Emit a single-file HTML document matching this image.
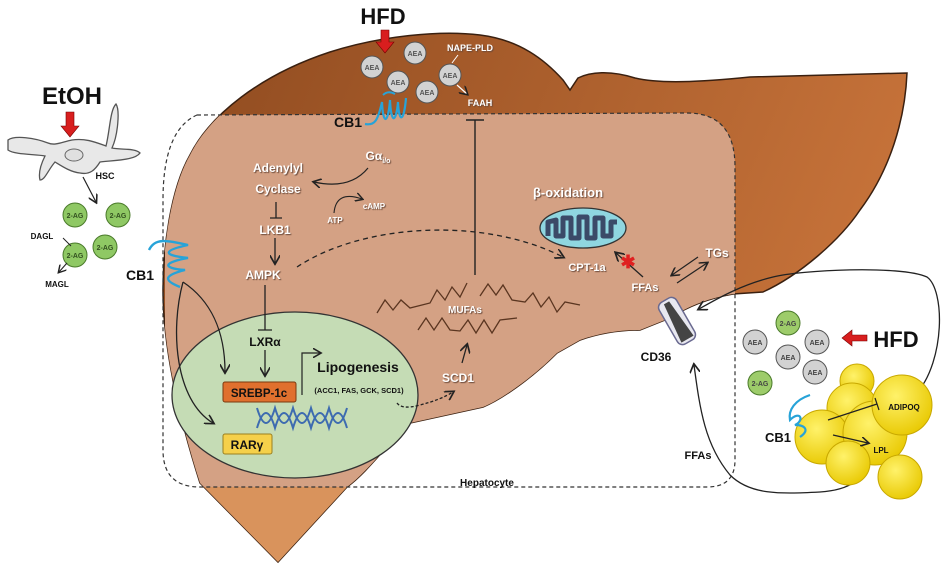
<!DOCTYPE html>
<html><head><meta charset="utf-8"><style>
html,body{margin:0;padding:0;background:#fff;}
svg{display:block;font-family:"Liberation Sans",sans-serif;font-weight:bold;}
.w{fill:#fff;text-shadow:1px 1px 1px #6b4a3a;}
.d{fill:#111;}
</style></head><body>
<svg width="942" height="569" viewBox="0 0 942 569" xmlns="http://www.w3.org/2000/svg">
<defs>
<linearGradient id="lg" x1="0" y1="0" x2="1" y2="0.3">
<stop offset="0" stop-color="#8e4a1f"/><stop offset="1" stop-color="#c7733a"/></linearGradient>
<radialGradient id="fy" cx="0.4" cy="0.35" r="0.7"><stop offset="0" stop-color="#fff26a"/><stop offset="1" stop-color="#e8c800"/></radialGradient>
<clipPath id="lc"><path d="M163,290 C163,250 170,190 190,155 C210,115 260,75 330,52 C380,36 440,30 480,35 C520,40 545,60 563,80 L570,90 L578,78 C590,72 610,70 635,78 C660,84 700,82 750,77 L907,73 C905,120 890,170 860,210 C840,240 800,275 763,292 L733,294 C710,298 690,305 670,318 L640,330 C620,330 600,333 580,340 L557,353 C530,380 500,400 483,407 L410,423 C390,440 370,470 347,487 L278,562 L200,483 C180,420 163,350 163,290 Z"/></clipPath>
<marker id="ah" markerWidth="8" markerHeight="8" refX="6" refY="4" orient="auto"><path d="M0,0 L7,4 L0,8" fill="none" stroke="#222" stroke-width="1.3"/></marker>
</defs>
<path d="M163,290 C163,250 170,190 190,155 C210,115 260,75 330,52 C380,36 440,30 480,35 C520,40 545,60 563,80 L570,90 L578,78 C590,72 610,70 635,78 C660,84 700,82 750,77 L907,73 C905,120 890,170 860,210 C840,240 800,275 763,292 L733,294 C710,298 690,305 670,318 L640,330 C620,330 600,333 580,340 L557,353 C530,380 500,400 483,407 L410,423 C390,440 370,470 347,487 L278,562 L200,483 C180,420 163,350 163,290 Z" fill="url(#lg)" stroke="#3a2010" stroke-width="1.5"/>
<g clip-path="url(#lc)">
<path d="M197,115 L687,113 Q735,113 735,167 L735,460 Q735,487 707,487 L200,487 Q165,487 165,450 L165,200 Q165,130 197,115 Z" fill="#d4a184"/>
<rect x="150" y="487" width="250" height="90" fill="#d9935c"/>
</g>
<path d="M197,115 L687,113 Q735,113 735,167 L735,460 Q735,487 707,487 L200,487 Q163,487 163,450 L163,200 Q163,130 197,115 Z" fill="none" stroke="#333" stroke-width="1.2" stroke-dasharray="4,3"/>
<ellipse cx="295" cy="395" rx="123" ry="83" fill="#c5dcb5" stroke="#333" stroke-width="1.3"/>
<text x="383" y="24" font-size="22" text-anchor="middle" class="d">HFD</text>
<path d="M381,30 L389,30 L389,42 L394,42 L385,53 L376,42 L381,42 Z" fill="#d81e1e" stroke="#700" stroke-width="0.6"/>
<g fill="#d2d2d2" stroke="#555" stroke-width="1">
<circle cx="372" cy="67" r="11"/><circle cx="415" cy="53" r="11"/><circle cx="398" cy="82" r="11"/><circle cx="427" cy="92" r="11"/><circle cx="450" cy="75" r="11"/>
</g>
<g font-size="7" fill="#555" text-anchor="middle">
<text x="372" y="70">AEA</text><text x="415" y="56">AEA</text><text x="398" y="85">AEA</text><text x="427" y="95">AEA</text><text x="450" y="78">AEA</text></g>
<text x="470" y="51" font-size="9" class="w" text-anchor="middle">NAPE-PLD</text>
<text x="480" y="106" font-size="9" class="w" text-anchor="middle">FAAH</text>
<path d="M458,55 L452,63" stroke="#fff" stroke-width="1"/>
<path d="M457,85 L467,94" stroke="#fff" stroke-width="1.2" marker-end="url(#ah)"/>
<text x="348" y="127" font-size="14" class="d" text-anchor="middle">CB1</text>
<path d="M365,124 C375,126 378,120 382,102 C383,125 388,125 390,100 C391,124 396,124 398,102 C399,124 404,122 406,98" fill="none" stroke="#27a3d8" stroke-width="2.2"/>
<path d="M383,95 Q388,90 395,94" fill="none" stroke="#27a3d8" stroke-width="2"/>
<path d="M475,120 L475,275 M466,120 L484,120" stroke="#222" stroke-width="1.4"/>
<text x="378" y="160" font-size="12" class="w" text-anchor="middle">Gα<tspan font-size="7" dy="3">i/o</tspan></text>
<text x="278" y="172" font-size="12" class="w" text-anchor="middle">Adenylyl</text>
<text x="278" y="193" font-size="12" class="w" text-anchor="middle">Cyclase</text>
<path d="M368,168 Q350,190 314,182" fill="none" stroke="#222" stroke-width="1.2" marker-end="url(#ah)"/>
<text x="335" y="223" font-size="8" class="w" text-anchor="middle">ATP</text>
<text x="374" y="209" font-size="8" class="w" text-anchor="middle">cAMP</text>
<path d="M334,213 Q336,190 362,199" fill="none" stroke="#222" stroke-width="1.1" marker-end="url(#ah)"/>
<path d="M276,202 L276,218 M270,218 L282,218" stroke="#222" stroke-width="1.3"/>
<text x="275" y="234" font-size="12" class="w" text-anchor="middle">LKB1</text>
<path d="M275,238 L275,263" stroke="#222" stroke-width="1.3" marker-end="url(#ah)"/>
<text x="263" y="279" font-size="12" class="w" text-anchor="middle">AMPK</text>
<path d="M297,267 C360,225 480,215 563,257" fill="none" stroke="#222" stroke-width="1.3" stroke-dasharray="5,4" marker-end="url(#ah)"/>
<path d="M265,285 L265,330 M258,330 L272,330" stroke="#222" stroke-width="1.3"/>
<text x="265" y="346" font-size="12" class="d" text-anchor="middle">LXRα</text>
<path d="M265,350 L265,375" stroke="#222" stroke-width="1.3" marker-end="url(#ah)"/>
<path d="M183,282 C210,300 225,330 225,372" fill="none" stroke="#222" stroke-width="1.3" marker-end="url(#ah)"/>
<path d="M183,282 C170,330 175,400 213,423" fill="none" stroke="#222" stroke-width="1.3" marker-end="url(#ah)"/>
<rect x="223" y="382" width="73" height="20" rx="2" fill="#e0702e" stroke="#7a3a10" stroke-width="1"/>
<text x="259" y="397" font-size="11.5" class="d" text-anchor="middle">SREBP-1c</text>
<rect x="223" y="434" width="49" height="20" rx="2" fill="#f5d04a" stroke="#9a8020" stroke-width="1"/>
<text x="247" y="449" font-size="12" class="d" text-anchor="middle">RARγ</text>
<g fill="none" stroke="#3d6bb0" stroke-width="2">
<path d="M257,408 C263,428 269,428 275,408 C281,428 287,428 293,408 C299,428 305,428 311,408 C317,428 323,428 329,408 C335,428 341,428 347,408"/>
<path d="M257,428 C263,408 269,408 275,428 C281,408 287,408 293,428 C299,408 305,408 311,428 C317,408 323,408 329,428 C335,408 341,408 347,428"/>
</g>
<path d="M302,395 L302,353 L320,353" fill="none" stroke="#222" stroke-width="1.2" marker-end="url(#ah)"/>
<text x="358" y="372" font-size="14" class="d" text-anchor="middle">Lipogenesis</text>
<text x="359" y="393" font-size="7.5" class="d" text-anchor="middle">(ACC1, FAS, GCK, SCD1)</text>
<path d="M397,403 Q402,410 420,405 Q440,400 453,392" fill="none" stroke="#222" stroke-width="1.3" stroke-dasharray="3,2" marker-end="url(#ah)"/>
<text x="458" y="382" font-size="12" class="w" text-anchor="middle">SCD1</text>
<path d="M462,363 L467,345" stroke="#222" stroke-width="1.3" marker-end="url(#ah)"/>
<g fill="none" stroke="#5a3520" stroke-width="1.3">
<polyline points="377,313 385,300 393,310 401,300 410,308 430,303 437,290 445,300 452,287 460,297 467,283"/>
<polyline points="480,296 488,284 496,295 503,285 512,300 525,302 533,293 541,307 549,297 557,312 565,302 580,305"/>
<polyline points="418,330 426,318 434,330 442,318 450,330 460,331 468,320 476,333 484,320 492,333 500,320 517,318"/>
</g>
<text x="465" y="313" font-size="10" class="w" text-anchor="middle">MUFAs</text>
<text x="487" y="486" font-size="10" class="d" text-anchor="middle">Hepatocyte</text>
<text x="568" y="197" font-size="13" class="w" text-anchor="middle">β-oxidation</text>
<ellipse cx="583" cy="228" rx="43" ry="20" fill="#8fd6e0" stroke="#333" stroke-width="1.3"/>
<path d="M548,236 L548,222 L556,220 L556,236 L563,236 L563,218 L571,218 L571,238 L579,238 L579,217 L587,217 L587,238 L595,238 L595,218 L603,218 L603,236 L611,236 L611,222 L617,222" fill="none" stroke="#3b4a68" stroke-width="5" stroke-linejoin="round"/>
<text x="587" y="271" font-size="11" class="w" text-anchor="middle">CPT-1a</text>
<path d="M643,277 L616,253" stroke="#222" stroke-width="1.3" marker-end="url(#ah)"/>
<text x="628" y="268" font-size="18" fill="#e02020" text-anchor="middle">✱</text>
<text x="645" y="291" font-size="11" class="w" text-anchor="middle">FFAs</text>
<text x="717" y="257" font-size="12" class="w" text-anchor="middle">TGs</text>
<path d="M698,257 L672,275" stroke="#222" stroke-width="1.2" marker-end="url(#ah)"/>
<path d="M677,283 L707,263" stroke="#222" stroke-width="1.2" marker-end="url(#ah)"/>
<g transform="rotate(-30 677 321)">
<rect x="667" y="297" width="20" height="48" rx="6" fill="#e8e8f0" stroke="#6a6a90" stroke-width="1.5"/>
<path d="M674,300 L680,300 L684,342 L670,342 Z" fill="#444"/>
</g>
<text x="656" y="361" font-size="12" class="d" text-anchor="middle">CD36</text>
<path d="M917,393 C945,360 945,290 927,277 C900,265 800,270 773,277 C740,285 715,300 699,309" fill="none" stroke="#222" stroke-width="1.3" marker-end="url(#ah)"/>
<path d="M873,453 C865,480 850,490 820,492 C780,494 750,495 730,475 C705,445 700,410 694,365" fill="none" stroke="#222" stroke-width="1.3" marker-end="url(#ah)"/>
<text x="698" y="459" font-size="11" class="d" text-anchor="middle">FFAs</text>
<g fill="url(#fy)" stroke="#c8a800" stroke-width="1">
<circle cx="857" cy="381" r="17"/><circle cx="852" cy="408" r="25"/><circle cx="822" cy="437" r="27"/><circle cx="875" cy="433" r="32"/><circle cx="902" cy="405" r="30"/><circle cx="848" cy="463" r="22"/><circle cx="900" cy="477" r="22"/>
</g>
<g fill="#9dcc6a" stroke="#4a7a2a" stroke-width="1"><circle cx="788" cy="323" r="12"/><circle cx="760" cy="383" r="12"/></g>
<g fill="#d2d2d2" stroke="#555" stroke-width="1"><circle cx="755" cy="342" r="12"/><circle cx="817" cy="342" r="12"/><circle cx="788" cy="357" r="12"/><circle cx="815" cy="372" r="12"/></g>
<g font-size="7" fill="#444" text-anchor="middle">
<text x="788" y="326">2-AG</text><text x="760" y="386">2-AG</text><text x="755" y="345">AEA</text><text x="817" y="345">AEA</text><text x="788" y="360">AEA</text><text x="815" y="375">AEA</text></g>
<path d="M867,335 L852,335 L852,330 L842,338 L852,346 L852,341 L867,341 Z" fill="#d81e1e" stroke="#700" stroke-width="0.6"/>
<text x="896" y="347" font-size="22" class="d" text-anchor="middle">HFD</text>
<path d="M810,395 C795,400 788,410 790,420 C800,410 805,420 795,425 C805,425 810,430 800,437" fill="none" stroke="#27a3d8" stroke-width="2.2"/>
<text x="778" y="442" font-size="13" class="d" text-anchor="middle">CB1</text>
<path d="M828,420 L877,404 M875,398 L879,410" stroke="#222" stroke-width="1.2"/>
<text x="904" y="410" font-size="8" class="d" text-anchor="middle">ADIPOQ</text>
<path d="M833,435 L868,443" stroke="#222" stroke-width="1.2" marker-end="url(#ah)"/>
<text x="881" y="453" font-size="8" class="d" text-anchor="middle">LPL</text>
<text x="72" y="104" font-size="24" class="d" text-anchor="middle">EtOH</text>
<path d="M66,112 L74,112 L74,126 L79,126 L70,137 L61,126 L66,126 Z" fill="#d81e1e" stroke="#700" stroke-width="0.6"/>
<path d="M8,140 C15,135 35,138 48,143 C55,146 62,142 72,140 C85,138 95,142 106,146 C110,130 110,110 116,104 C120,110 118,135 112,148 C122,150 135,148 140,153 C135,160 118,160 100,162 C95,170 90,175 80,173 C70,172 60,165 55,162 C48,170 45,180 40,180 C38,172 42,162 45,156 C35,154 15,155 8,150 Z" fill="#e8e8e8" stroke="#555" stroke-width="1.3"/>
<ellipse cx="74" cy="155" rx="9" ry="6" fill="#e0e0e0" stroke="#666" stroke-width="1"/>
<text x="105" y="179" font-size="9" class="d" text-anchor="middle">HSC</text>
<path d="M83,177 L96,202" stroke="#222" stroke-width="1.2" marker-end="url(#ah)"/>
<g fill="#8fc864" stroke="#4a7a2a" stroke-width="1"><circle cx="75" cy="215" r="12"/><circle cx="118" cy="215" r="12"/><circle cx="105" cy="247" r="12"/><circle cx="75" cy="255" r="12"/></g>
<g font-size="7" fill="#335020" text-anchor="middle"><text x="75" y="218">2-AG</text><text x="118" y="218">2-AG</text><text x="105" y="250">2-AG</text><text x="75" y="258">2-AG</text></g>
<text x="42" y="239" font-size="8" class="d" text-anchor="middle">DAGL</text>
<path d="M63,238 L71,246" stroke="#222" stroke-width="1"/>
<text x="57" y="287" font-size="8" class="d" text-anchor="middle">MAGL</text>
<path d="M67,263 L59,272" stroke="#222" stroke-width="1.1" marker-end="url(#ah)"/>
<text x="140" y="280" font-size="14" class="d" text-anchor="middle">CB1</text>
<path d="M149,250 C155,238 165,240 188,245 C165,250 160,255 188,258 C165,262 160,268 185,270 C165,275 162,280 180,287" fill="none" stroke="#27a3d8" stroke-width="2.4"/>
</svg>
</body></html>
